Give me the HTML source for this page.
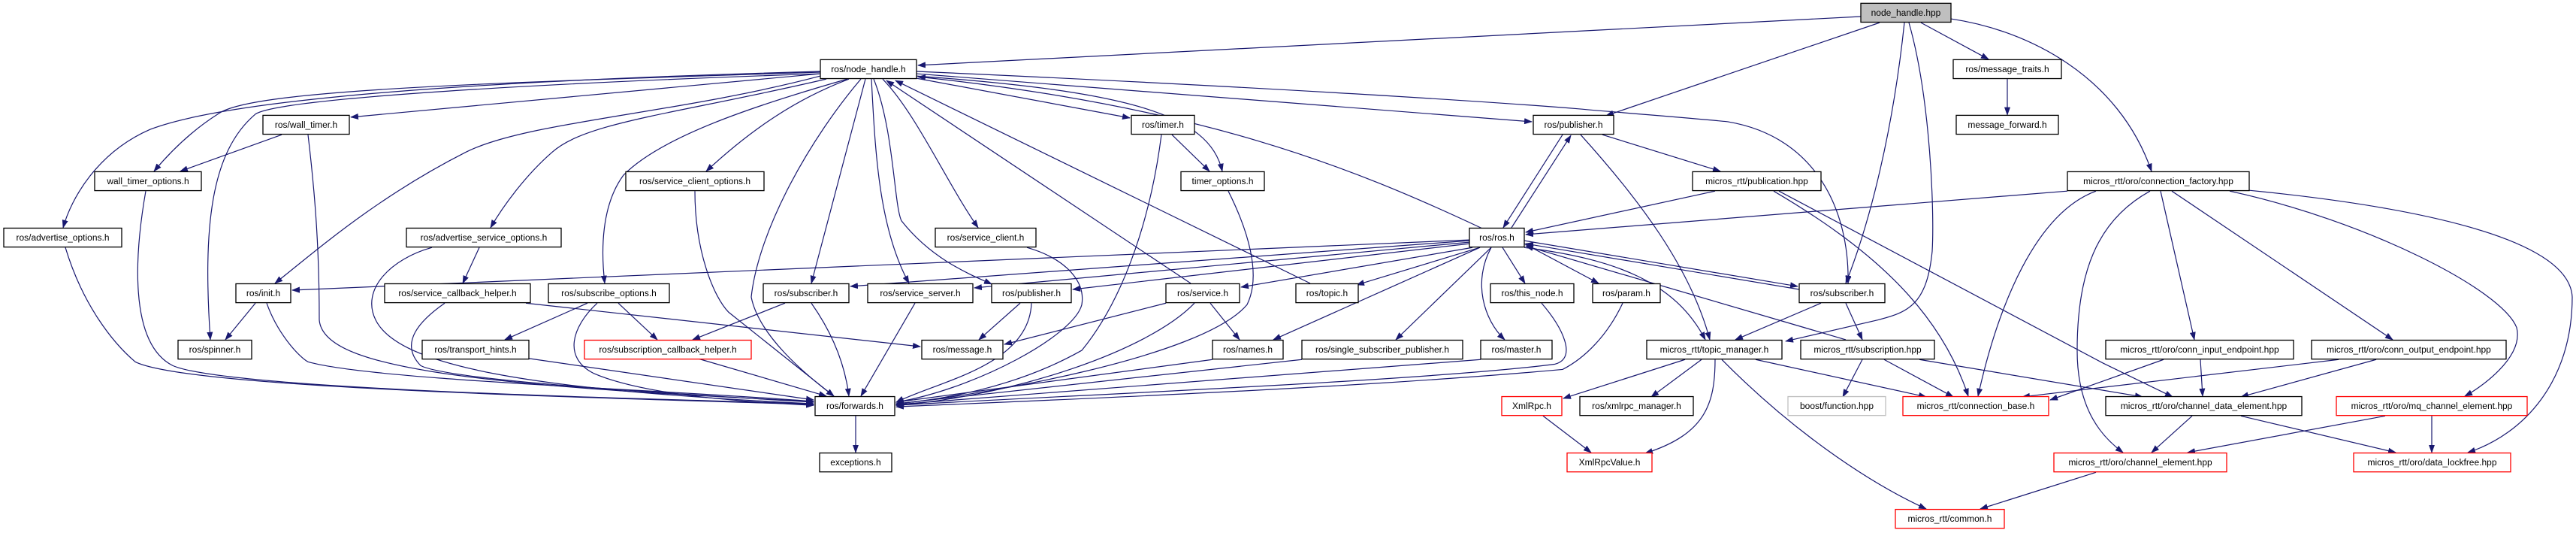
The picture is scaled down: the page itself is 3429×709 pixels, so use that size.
<!DOCTYPE html>
<html><head><meta charset="utf-8"><style>
html,body{margin:0;padding:0;background:#fff;}
svg{display:block;}
text{font-family:"Liberation Sans",Arial,sans-serif;font-size:12px;fill:#000;}
.e{fill:none;stroke:#191970;stroke-width:1.2;marker-end:url(#a);}
.n{fill:#fff;stroke:#000;stroke-width:1.3;}
.r{fill:#fff;stroke:#ff0000;stroke-width:1.3;}
.g{fill:#fff;stroke:#bfbfbf;stroke-width:1.3;}
.h{fill:#bfbfbf;stroke:#000;stroke-width:1.3;}
</style></head><body>
<svg width="3429" height="709" viewBox="0 0 3429 709" xmlns="http://www.w3.org/2000/svg">
<defs><marker id="a" markerUnits="userSpaceOnUse" markerWidth="11" markerHeight="8" refX="10" refY="4" orient="auto"><path d="M0,0 L11,4 L0,8 z" fill="#191970"/></marker></defs>
<g transform="translate(0,-0.3) scale(1,1.0139)">
<!-- edges -->
<path class="e" d="M2477,22 L1222,86"/>
<path class="e" d="M2502,30 L2138,152"/>
<path class="e" d="M2535,30 C2520,170 2490,290 2457,372"/>
<path class="e" d="M2541,30 C2570,130 2575,280 2572,330 C2565,400 2540,410 2500,420 L2377,448"/>
<path class="e" d="M2557,30 L2647,78"/>
<path class="e" d="M2597,25 C2700,40 2820,100 2864,225"/>
<path class="e" d="M2672,104 L2672,151"/>
<path class="e" d="M1092,97 L467,154"/>
<path class="e" d="M1092,95 C600,110 330,120 290,150 C250,175 222,205 205,225"/>
<path class="e" d="M1092,94 C500,110 280,140 200,170 C130,200 95,260 84,299"/>
<path class="e" d="M1092,97 C700,110 370,130 340,150 C280,200 270,300 280,446"/>
<path class="e" d="M1092,100 C900,150 700,160 620,200 C500,260 420,330 366,372"/>
<path class="e" d="M1100,104 C900,150 780,160 735,200 C700,230 670,270 653,299"/>
<path class="e" d="M1130,104 C1060,130 1000,170 940,225"/>
<path class="e" d="M1128,104 C1000,140 880,180 830,230 C800,270 800,330 805,372"/>
<path class="e" d="M1146,104 C1080,180 1010,300 1000,390 C1010,440 1070,490 1110,520"/>
<path class="e" d="M1152,104 L1080,372"/>
<path class="e" d="M1160,104 C1165,200 1170,300 1210,372"/>
<path class="e" d="M1163,104 C1190,170 1190,270 1200,290 C1240,340 1290,360 1320,373"/>
<path class="e" d="M1175,104 C1220,150 1260,240 1302,299"/>
<path class="e" d="M1220,103 L1504,155"/>
<path class="e" d="M1220,100 C1500,120 1610,150 1627,225"/>
<path class="e" d="M1220,97 L2039,160"/>
<path class="e" d="M1220,94 C1700,115 2000,135 2100,143 C2180,150 2250,155 2300,160 C2420,180 2462,280 2460,372"/>
<path class="e" d="M1973,300 C1800,220 1600,140 1222,101"/>
<path class="e" d="M1585,372 L1180,106"/>
<path class="e" d="M1744,372 L1192,106"/>
<path class="e" d="M375,177 L240,225"/>
<path class="e" d="M410,177 C420,260 425,330 425,420 C430,480 600,505 1083,527"/>
<path class="e" d="M194,251 C180,330 170,450 230,480 C300,510 800,522 1083,530"/>
<path class="e" d="M87,325 C110,400 150,450 180,475 C250,510 800,522 1083,531"/>
<path class="e" d="M340,398 L300,446"/>
<path class="e" d="M355,398 C370,440 400,470 410,475 C500,500 900,512 1083,527"/>
<path class="e" d="M638,325 L616,372"/>
<path class="e" d="M575,325 C520,340 480,380 500,420 C530,480 700,512 1083,530"/>
<path class="e" d="M592,398 C560,420 530,450 560,480 C600,500 900,517 1083,528"/>
<path class="e" d="M700,398 L1225,455"/>
<path class="e" d="M782,398 L672,446"/>
<path class="e" d="M823,398 L875,446"/>
<path class="e" d="M795,398 C760,430 750,470 790,490 C860,520 1000,528 1083,532"/>
<path class="e" d="M700,470 L1083,525"/>
<path class="e" d="M925,251 C925,330 950,390 970,410 L1110,520"/>
<path class="e" d="M1045,398 L922,446"/>
<path class="e" d="M1080,398 C1110,440 1125,480 1130,520"/>
<path class="e" d="M930,471 L1100,520"/>
<path class="e" d="M1218,398 L1146,520"/>
<path class="e" d="M1358,398 L1303,446"/>
<path class="e" d="M1373,398 C1370,480 1250,500 1193,528"/>
<path class="e" d="M1367,325 C1420,340 1445,370 1440,400 C1430,440 1300,510 1193,528"/>
<path class="e" d="M1560,177 L1610,225"/>
<path class="e" d="M1546,177 C1530,300 1490,400 1440,460 C1350,510 1250,525 1193,530"/>
<path class="e" d="M1635,251 C1660,300 1680,360 1660,400 C1600,470 1300,520 1193,530"/>
<path class="e" d="M1139,546 L1139,594"/>
<path class="e" d="M1611,398 L1650,446"/>
<path class="e" d="M1590,398 C1530,460 1350,520 1193,532"/>
<path class="e" d="M1552,398 L1337,452"/>
<path class="e" d="M1614,472 L1193,528"/>
<path class="e" d="M1733,472 L1193,530"/>
<path class="e" d="M1971,472 L1193,531"/>
<path class="e" d="M2052,398 C2080,430 2100,470 2070,478 C1900,500 1400,520 1193,532"/>
<path class="e" d="M2160,398 C2140,440 2110,470 2080,485 C1800,510 1400,525 1193,534"/>
<path class="e" d="M1956,315 L389,381"/>
<path class="e" d="M1956,316 L1132,376"/>
<path class="e" d="M1956,318 L1297,378"/>
<path class="e" d="M1956,320 L1428,380"/>
<path class="e" d="M1960,325 L1652,377"/>
<path class="e" d="M1970,325 L1806,374"/>
<path class="e" d="M2000,325 L2030,372"/>
<path class="e" d="M1970,325 L1695,446"/>
<path class="e" d="M1985,325 L1858,446"/>
<path class="e" d="M1985,325 C1960,370 1975,420 2003,446"/>
<path class="e" d="M2029,320 L2128,372"/>
<path class="e" d="M2029,316 L2393,376"/>
<path class="e" d="M2395,380 L2031,320"/>
<path class="e" d="M2457,446 L2031,323"/>
<path class="e" d="M2029,325 C2150,340 2230,370 2270,446"/>
<path class="e" d="M2080,177 L2001,299"/>
<path class="e" d="M2012,299 L2091,178"/>
<path class="e" d="M2133,177 L2290,225"/>
<path class="e" d="M2104,177 C2180,260 2250,350 2276,446"/>
<path class="e" d="M2283,251 L2031,305"/>
<path class="e" d="M2361,251 C2480,320 2580,400 2620,520"/>
<path class="e" d="M2368,251 L2800,477 L2892,521"/>
<path class="e" d="M2752,251 L2031,308"/>
<path class="e" d="M2790,251 C2710,280 2660,400 2633,520"/>
<path class="e" d="M2862,251 C2790,290 2765,360 2765,460 C2765,540 2800,575 2826,594"/>
<path class="e" d="M2876,251 L2921,446"/>
<path class="e" d="M2891,251 L3185,446"/>
<path class="e" d="M2968,251 C3150,290 3330,380 3350,430 C3360,470 3300,510 3281,520"/>
<path class="e" d="M2994,250 C3200,270 3420,310 3424,390 C3424,500 3360,570 3285,594"/>
<path class="e" d="M2880,472 L2729,525"/>
<path class="e" d="M2929,472 L2932,520"/>
<path class="e" d="M3113,472 L2692,521"/>
<path class="e" d="M3163,472 L2983,521"/>
<path class="e" d="M2555,472 L2852,521"/>
<path class="e" d="M2918,546 L2864,594"/>
<path class="e" d="M2983,546 L3189,594"/>
<path class="e" d="M3175,546 L2912,594"/>
<path class="e" d="M3237,546 L3237,594"/>
<path class="e" d="M2790,620 L2636,668"/>
<path class="e" d="M2292,472 C2380,560 2480,630 2564,668"/>
<path class="e" d="M2337,472 L2564,521"/>
<path class="e" d="M2508,472 L2600,521"/>
<path class="e" d="M2479,472 L2453,521"/>
<path class="e" d="M2265,472 L2198,521"/>
<path class="e" d="M2283,472 C2283,530 2270,570 2190,595"/>
<path class="e" d="M2243,472 L2081,523"/>
<path class="e" d="M2054,546 L2118,594"/>
<path class="e" d="M2424,398 L2310,446"/>
<path class="e" d="M2457,398 L2479,446"/>
<!-- nodes -->
<g>
<rect class="h" x="2477" y="4.6" width="120" height="24.8"/><text x="2537" y="21" text-anchor="middle">node_handle.hpp</text>
<rect class="n" x="1092" y="78.6" width="128" height="24.8"/><text x="1156" y="95" text-anchor="middle">ros/node_handle.h</text>
<rect class="n" x="2600" y="78.6" width="144" height="24.8"/><text x="2672" y="95" text-anchor="middle">ros/message_traits.h</text>
<rect class="n" x="350" y="151.6" width="115" height="24.8"/><text x="407.5" y="168" text-anchor="middle">ros/wall_timer.h</text>
<rect class="n" x="1506" y="151.6" width="84" height="24.8"/><text x="1548" y="168" text-anchor="middle">ros/timer.h</text>
<rect class="n" x="2041" y="151.6" width="107" height="24.8"/><text x="2094.5" y="168" text-anchor="middle">ros/publisher.h</text>
<rect class="n" x="2604" y="151.6" width="136" height="24.8"/><text x="2672" y="168" text-anchor="middle">message_forward.h</text>
<rect class="n" x="126" y="225.6" width="142" height="24.8"/><text x="197" y="242" text-anchor="middle">wall_timer_options.h</text>
<rect class="n" x="833" y="225.6" width="184" height="24.8"/><text x="925" y="242" text-anchor="middle">ros/service_client_options.h</text>
<rect class="n" x="1572" y="225.6" width="111" height="24.8"/><text x="1627.5" y="242" text-anchor="middle">timer_options.h</text>
<rect class="n" x="2253" y="225.6" width="171" height="24.8"/><text x="2338.5" y="242" text-anchor="middle">micros_rtt/publication.hpp</text>
<rect class="n" x="2752" y="225.6" width="242" height="24.8"/><text x="2873" y="242" text-anchor="middle">micros_rtt/oro/connection_factory.hpp</text>
<rect class="n" x="5" y="299.6" width="157" height="24.8"/><text x="83.5" y="316" text-anchor="middle">ros/advertise_options.h</text>
<rect class="n" x="541" y="299.6" width="206" height="24.8"/><text x="644" y="316" text-anchor="middle">ros/advertise_service_options.h</text>
<rect class="n" x="1245" y="299.6" width="134" height="24.8"/><text x="1312" y="316" text-anchor="middle">ros/service_client.h</text>
<rect class="n" x="1956" y="299.6" width="73" height="24.8"/><text x="1992.5" y="316" text-anchor="middle">ros/ros.h</text>
<rect class="n" x="314" y="372.6" width="73" height="24.8"/><text x="350.5" y="389" text-anchor="middle">ros/init.h</text>
<rect class="n" x="512" y="372.6" width="194" height="24.8"/><text x="609" y="389" text-anchor="middle">ros/service_callback_helper.h</text>
<rect class="n" x="730" y="372.6" width="161" height="24.8"/><text x="810.5" y="389" text-anchor="middle">ros/subscribe_options.h</text>
<rect class="n" x="1016" y="372.6" width="114" height="24.8"/><text x="1073" y="389" text-anchor="middle">ros/subscriber.h</text>
<rect class="n" x="1155" y="372.6" width="140" height="24.8"/><text x="1225" y="389" text-anchor="middle">ros/service_server.h</text>
<rect class="n" x="1320" y="372.6" width="106" height="24.8"/><text x="1373" y="389" text-anchor="middle">ros/publisher.h</text>
<rect class="n" x="1552" y="372.6" width="98" height="24.8"/><text x="1601" y="389" text-anchor="middle">ros/service.h</text>
<rect class="n" x="1725" y="372.6" width="83" height="24.8"/><text x="1766.5" y="389" text-anchor="middle">ros/topic.h</text>
<rect class="n" x="1984" y="372.6" width="111" height="24.8"/><text x="2039.5" y="389" text-anchor="middle">ros/this_node.h</text>
<rect class="n" x="2120" y="372.6" width="90" height="24.8"/><text x="2165" y="389" text-anchor="middle">ros/param.h</text>
<rect class="n" x="2395" y="372.6" width="114" height="24.8"/><text x="2452" y="389" text-anchor="middle">ros/subscriber.h</text>
<rect class="n" x="237" y="446.6" width="98" height="24.8"/><text x="286" y="463" text-anchor="middle">ros/spinner.h</text>
<rect class="n" x="562" y="446.6" width="142" height="24.8"/><text x="633" y="463" text-anchor="middle">ros/transport_hints.h</text>
<rect class="r" x="778" y="446.6" width="222" height="24.8"/><text x="889" y="463" text-anchor="middle">ros/subscription_callback_helper.h</text>
<rect class="n" x="1227" y="446.6" width="108" height="24.8"/><text x="1281" y="463" text-anchor="middle">ros/message.h</text>
<rect class="n" x="1614" y="446.6" width="94" height="24.8"/><text x="1661" y="463" text-anchor="middle">ros/names.h</text>
<rect class="n" x="1733" y="446.6" width="214" height="24.8"/><text x="1840" y="463" text-anchor="middle">ros/single_subscriber_publisher.h</text>
<rect class="n" x="1971" y="446.6" width="95" height="24.8"/><text x="2018.5" y="463" text-anchor="middle">ros/master.h</text>
<rect class="n" x="2192" y="446.6" width="180" height="24.8"/><text x="2282" y="463" text-anchor="middle">micros_rtt/topic_manager.h</text>
<rect class="n" x="2397" y="446.6" width="178" height="24.8"/><text x="2486" y="463" text-anchor="middle">micros_rtt/subscription.hpp</text>
<rect class="n" x="2803" y="446.6" width="250" height="24.8"/><text x="2928" y="463" text-anchor="middle">micros_rtt/oro/conn_input_endpoint.hpp</text>
<rect class="n" x="3077" y="446.6" width="259" height="24.8"/><text x="3206.5" y="463" text-anchor="middle">micros_rtt/oro/conn_output_endpoint.hpp</text>
<rect class="n" x="1085" y="520.6" width="106" height="24.8"/><text x="1138" y="537" text-anchor="middle">ros/forwards.h</text>
<rect class="r" x="1999" y="520.6" width="80" height="24.8"/><text x="2039" y="537" text-anchor="middle">XmlRpc.h</text>
<rect class="n" x="2103" y="520.6" width="151" height="24.8"/><text x="2178.5" y="537" text-anchor="middle">ros/xmlrpc_manager.h</text>
<rect class="g" x="2380" y="520.6" width="130" height="24.8"/><text x="2445" y="537" text-anchor="middle">boost/function.hpp</text>
<rect class="r" x="2533" y="520.6" width="194" height="24.8"/><text x="2630" y="537" text-anchor="middle">micros_rtt/connection_base.h</text>
<rect class="n" x="2803" y="520.6" width="261" height="24.8"/><text x="2933.5" y="537" text-anchor="middle">micros_rtt/oro/channel_data_element.hpp</text>
<rect class="r" x="3110" y="520.6" width="254" height="24.8"/><text x="3237" y="537" text-anchor="middle">micros_rtt/oro/mq_channel_element.hpp</text>
<rect class="n" x="1091" y="594.6" width="96" height="24.8"/><text x="1139" y="611" text-anchor="middle">exceptions.h</text>
<rect class="r" x="2086" y="594.6" width="113" height="24.8"/><text x="2142.5" y="611" text-anchor="middle">XmlRpcValue.h</text>
<rect class="r" x="2734" y="594.6" width="230" height="24.8"/><text x="2849" y="611" text-anchor="middle">micros_rtt/oro/channel_element.hpp</text>
<rect class="r" x="3133" y="594.6" width="209" height="24.8"/><text x="3237.5" y="611" text-anchor="middle">micros_rtt/oro/data_lockfree.hpp</text>
<rect class="r" x="2523" y="668.6" width="145" height="24.8"/><text x="2595.5" y="685" text-anchor="middle">micros_rtt/common.h</text>
</g>
</g>
</svg>
</body></html>
